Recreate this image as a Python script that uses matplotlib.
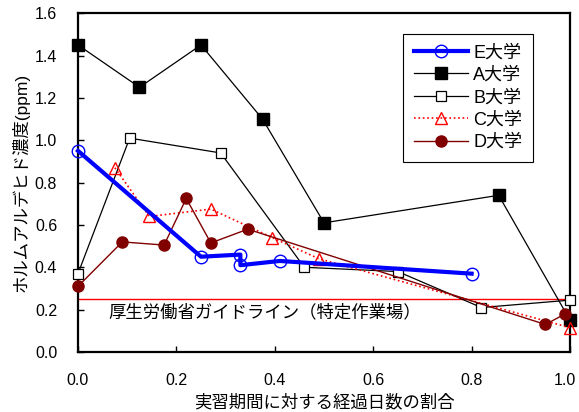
import matplotlib.pyplot as plt
import matplotlib.transforms as mtransforms
import numpy as np

plt.rcParams['font.family'] = ['Liberation Sans', 'Noto Sans CJK JP']

# 各大学のデータ (実習期間に対する経過日数の割合, ホルムアルデヒド濃度 ppm)
e_x = [0.0, 0.25, 0.33, 0.33, 0.41, 0.80]
e_y = [0.95, 0.45, 0.46, 0.41, 0.43, 0.37]

a_x = [0.0, 0.125, 0.25, 0.375, 0.50, 0.855, 1.0]
a_y = [1.45, 1.25, 1.45, 1.10, 0.61, 0.74, 0.15]

b_x = [0.0, 0.105, 0.29, 0.46, 0.65, 0.82, 1.0]
b_y = [0.37, 1.01, 0.94, 0.40, 0.38, 0.21, 0.245]

c_x = [0.075, 0.145, 0.27, 0.395, 0.49, 1.0]
c_y = [0.87, 0.64, 0.675, 0.54, 0.44, 0.115]

d_x = [0.0, 0.09, 0.175, 0.22, 0.27, 0.345, 0.95, 0.99]
d_y = [0.31, 0.52, 0.505, 0.725, 0.515, 0.58, 0.13, 0.18]

guide = 0.25
guide_text = '厚生労働省ガイドライン（特定作業場）'

fig = plt.figure(figsize=(5.79, 4.12), dpi=100)
ax = fig.add_axes([0.1347, 0.1456, 0.8498, 0.8224])

ax.axhline(guide, color='red', lw=1.0, zorder=1)
ax.text(0.062, 0.19, guide_text, fontsize=12.5, va='center', ha='left')

la, = ax.plot(a_x, a_y, '-', color='black', lw=0.9, marker='s', ms=8.5,
              mfc='black', mec='black', clip_on=False, zorder=3)
lb, = ax.plot(b_x, b_y, '-', color='black', lw=0.9, marker='s', ms=7.5,
              mfc='white', mec='black', mew=0.9, clip_on=False, zorder=3)
lc, = ax.plot(c_x, c_y, ':', color='red', lw=1.2, marker='^', ms=8,
              mfc='none', mec='red', mew=1.0, clip_on=False, zorder=3)
ld, = ax.plot(d_x, d_y, '-', color='#800000', lw=1.0, marker='o', ms=8,
              mfc='#800000', mec='#800000', clip_on=False, zorder=3)
le, = ax.plot(e_x, e_y, '-', color='blue', lw=3.0, marker='o', ms=9,
              mfc='none', mec='blue', mew=1.0, clip_on=False, zorder=4)

ax.set_xlim(0, 1.0)
ax.set_ylim(0, 1.6)
ax.set_xticks(np.arange(0, 1.01, 0.2))
ax.set_yticks(np.arange(0, 1.61, 0.2))
ax.xaxis.set_major_formatter(plt.FormatStrFormatter('%.1f'))
ax.yaxis.set_major_formatter(plt.FormatStrFormatter('%.1f'))
ax.tick_params(direction='in', length=4, width=1, labelsize=11.5, pad=15)
for s in ax.spines.values():
    s.set_linewidth(1.6)

# 右端の 1.0 が切れないよう少し左へ
last = ax.get_xticklabels()[-1]
last.set_transform(last.get_transform() +
                   mtransforms.ScaledTranslation(-5 / 100, 0, fig.dpi_scale_trans))

ax.set_xlabel('実習期間に対する経過日数の割合', fontsize=12.5, labelpad=4)
ax.set_ylabel('ホルムアルデヒド濃度(ppm)', fontsize=12.5, labelpad=4)

leg = ax.legend([le, la, lb, lc, ld], ['E大学', 'A大学', 'B大学', 'C大学', 'D大学'],
                loc='upper left', bbox_to_anchor=(0.66, 0.94), borderaxespad=0,
                fontsize=13, handlelength=3.0, labelspacing=0.3, fancybox=False,
                borderpad=0.6, handletextpad=0.3, framealpha=1)
leg.get_frame().set_edgecolor('black')
leg.get_frame().set_linewidth(0.8)

plt.savefig('out.png', dpi=100)
